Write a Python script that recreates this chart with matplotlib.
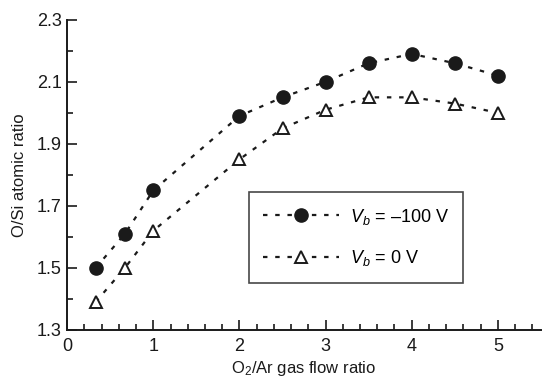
import numpy as np
import matplotlib.pyplot as plt
from matplotlib.ticker import MultipleLocator

plt.rcParams['font.family'] = ['Liberation Sans', 'DejaVu Sans']
plt.rcParams['mathtext.fontset'] = 'custom'
plt.rcParams['mathtext.rm'] = 'Liberation Sans'
plt.rcParams['mathtext.it'] = 'Liberation Sans:italic'

flow_ratio = [0.33, 0.67, 1.0, 2.0, 2.5, 3.0, 3.5, 4.0, 4.5, 5.0]
ratio_bias100 = [1.50, 1.61, 1.75, 1.99, 2.05, 2.10, 2.16, 2.19, 2.16, 2.12]
ratio_bias0 = [1.39, 1.50, 1.62, 1.85, 1.95, 2.01, 2.05, 2.05, 2.03, 2.00]

fig = plt.figure(figsize=(5.42, 3.81), dpi=100)
ax = fig.add_axes([0.124, 0.134, 0.874, 0.814])

dash = (0, (2, 3.5))
ax.plot(flow_ratio, ratio_bias100, color='#1a1a1a', linestyle=dash, linewidth=1.6,
        marker='o', markersize=9.5, markerfacecolor='#1a1a1a', markeredgecolor='#1a1a1a',
        label='$V_b$ = \u2013100 V')
ax.plot(flow_ratio, ratio_bias0, color='#1a1a1a', linestyle=dash, linewidth=1.6,
        marker='^', markersize=9, markerfacecolor='white', markeredgecolor='#1a1a1a',
        markeredgewidth=1.4, label='$V_b$ = 0 V')

ax.set_xlim(0, 5.5)
ax.set_ylim(1.3, 2.3)
ax.xaxis.set_minor_locator(MultipleLocator(0.2))
ax.yaxis.set_minor_locator(MultipleLocator(0.1))
ax.set_xticks([0, 1, 2, 3, 4, 5])
ax.set_yticks([1.3, 1.5, 1.7, 1.9, 2.1, 2.3])
ax.set_yticklabels(['1.3', '1.5', '1.7', '1.9', '2.1', '2.3'])

ax.spines['top'].set_visible(False)
ax.spines['right'].set_visible(False)
for s in ['left', 'bottom']:
    ax.spines[s].set_linewidth(1.4)
    ax.spines[s].set_color('#1a1a1a')
ax.tick_params(which='both', direction='in', color='#1a1a1a', width=1.2, labelsize=13,
               labelcolor='#1a1a1a')
ax.tick_params(which='major', length=7)
ax.tick_params(which='minor', length=4)
ax.tick_params(axis='x', pad=6)
ax.tick_params(axis='y', pad=4)

ax.set_xlabel('O$_2$/Ar gas flow ratio', fontsize=12, color='#1a1a1a', labelpad=3)
ax.set_ylabel('O/Si atomic ratio', fontsize=12, color='#1a1a1a', labelpad=7)

leg = ax.legend(loc='upper left', bbox_to_anchor=(0.383, 0.444), fontsize=13,
                frameon=True, fancybox=False, edgecolor='#1a1a1a', handlelength=4.2,
                handletextpad=0.6, borderpad=0.8, labelspacing=1.2, borderaxespad=0)
leg.get_frame().set_linewidth(1.2)

fig.savefig('out.png', dpi=100)
